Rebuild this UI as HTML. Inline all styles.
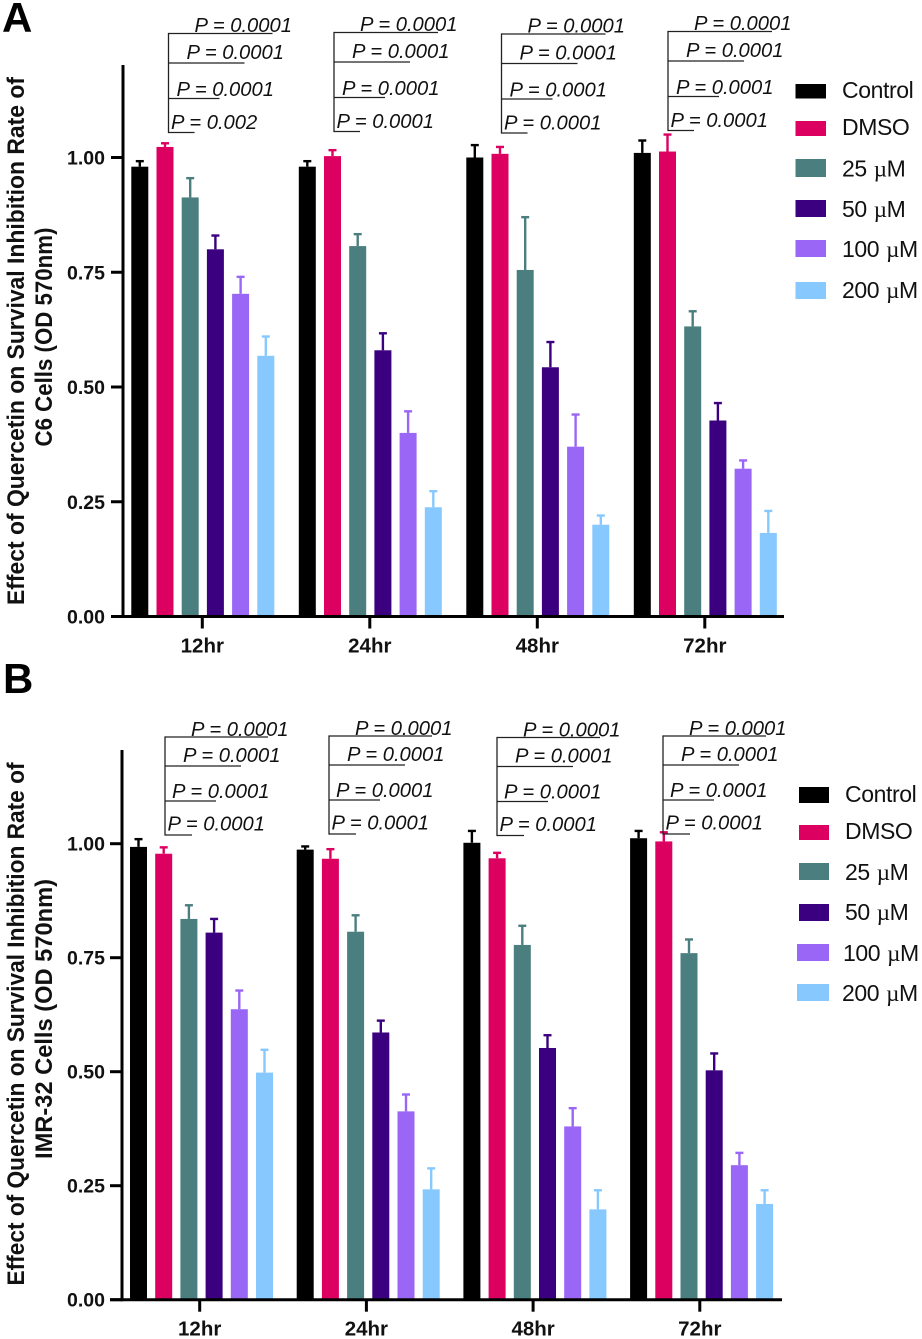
<!DOCTYPE html>
<html lang="en">
<head>
<meta charset="utf-8">
<title>Effect of Quercetin on Survival Inhibition Rate</title>
<style>
html,body{margin:0;padding:0;background:#fff;width:922px;height:1339px;overflow:hidden}
svg{display:block;font-family:"Liberation Sans",Arial,sans-serif}
</style>
</head>
<body>
<svg id="fig" xmlns="http://www.w3.org/2000/svg" width="922" height="1339" viewBox="0 0 922 1339">
  <text x="2" y="32" font-size="42" font-weight="700">A</text>
  <text x="3" y="693" font-size="42" font-weight="700">B</text>
  <text transform="translate(24,341) rotate(-90)" text-anchor="middle" font-size="24" font-weight="700" fill="#111" textLength="528" lengthAdjust="spacingAndGlyphs">Effect of Quercetin on Survival Inhibition Rate of</text>
  <text transform="translate(52,337) rotate(-90)" text-anchor="middle" font-size="24" font-weight="700" fill="#111" textLength="219" lengthAdjust="spacingAndGlyphs">C6 Cells (OD 570nm)</text>
  <text transform="translate(24,1024) rotate(-90)" text-anchor="middle" font-size="24" font-weight="700" fill="#111" textLength="523" lengthAdjust="spacingAndGlyphs">Effect of Quercetin on Survival Inhibition Rate of</text>
  <text transform="translate(52,1019) rotate(-90)" text-anchor="middle" font-size="24" font-weight="700" fill="#111" textLength="280" lengthAdjust="spacingAndGlyphs">IMR-32 Cells (OD 570nm)</text>
</svg>
<script>
// ---- chart data ----
const categories = ['12hr', '24hr', '48hr', '72hr'];
const seriesNames = ['Control', 'DMSO', '25 µM', '50 µM', '100 µM', '200 µM'];
const seriesColors = ['#000000', '#DC0060', '#4B7F7F', '#3A007F', '#9966F5', '#87C8FF'];
const yTicks = [0, 0.25, 0.5, 0.75, 1];
const yTickLabels = ['0.00', '0.25', '0.50', '0.75', '1.00'];

// mean per series, four time points each
const meansA = [
  [0.98, 0.98, 1.0, 1.01],
  [1.023, 1.003, 1.008, 1.013],
  [0.913, 0.807, 0.755, 0.632],
  [0.80, 0.58, 0.543, 0.427],
  [0.703, 0.40, 0.37, 0.322],
  [0.568, 0.238, 0.20, 0.182]
];
const errorsA = [
  [0.012, 0.012, 0.027, 0.027],
  [0.008, 0.013, 0.015, 0.037],
  [0.042, 0.026, 0.115, 0.033],
  [0.03, 0.037, 0.055, 0.038],
  [0.037, 0.047, 0.07, 0.018],
  [0.042, 0.035, 0.02, 0.048]
];
const meansB = [
  [0.993, 0.987, 1.002, 1.012],
  [0.978, 0.967, 0.968, 1.005],
  [0.835, 0.807, 0.778, 0.76],
  [0.805, 0.586, 0.552, 0.503],
  [0.637, 0.413, 0.38, 0.295],
  [0.498, 0.242, 0.198, 0.21]
];
const errorsB = [
  [0.017, 0.007, 0.026, 0.016],
  [0.014, 0.021, 0.012, 0.02],
  [0.03, 0.036, 0.042, 0.03],
  [0.03, 0.026, 0.028, 0.037],
  [0.041, 0.037, 0.04, 0.027],
  [0.05, 0.046, 0.042, 0.03]
];
// listed top line first
const pLabelsA = [
  ['P = 0.0001', 'P = 0.0001', 'P = 0.0001', 'P = 0.002'],
  ['P = 0.0001', 'P = 0.0001', 'P = 0.0001', 'P = 0.0001'],
  ['P = 0.0001', 'P = 0.0001', 'P = 0.0001', 'P = 0.0001'],
  ['P = 0.0001', 'P = 0.0001', 'P = 0.0001', 'P = 0.0001']
];
const pLabelsB = [
  ['P = 0.0001', 'P = 0.0001', 'P = 0.0001', 'P = 0.0001'],
  ['P = 0.0001', 'P = 0.0001', 'P = 0.0001', 'P = 0.0001'],
  ['P = 0.0001', 'P = 0.0001', 'P = 0.0001', 'P = 0.0001'],
  ['P = 0.0001', 'P = 0.0001', 'P = 0.0001', 'P = 0.0001']
];

// ---- drawing ----
const svg = document.getElementById('fig');
const NS = 'http://www.w3.org/2000/svg';
function mk(tag, attrs, parent) {
  const el = document.createElementNS(NS, tag);
  for (const k in attrs) el.setAttribute(k, attrs[k]);
  (parent || svg).appendChild(el);
  return el;
}

function drawPanel(p) {
  const id = p.id;
  const y = v => p.y0 - v * p.yUnit;
  const groupX = g => p.x0 + g * p.groupStep;
  const barX = (g, s) => groupX(g) + s * p.barStep;
  const barW = 17;

  const panel = mk('g', {});
  
  

  // bars and error bars
  seriesNames.forEach((name, s) => {
    categories.forEach((cat, g) => {
      const val = p.means[s][g];
      const top = val + p.errors[s][g];
      const cx = barX(g, s) + barW / 2;

      const stem = mk('line', {x1: cx, x2: cx, y1: y(val), y2: y(top), stroke: seriesColors[s], 'stroke-width': 2.4}, panel);
      
      

      const cap = mk('line', {x1: cx - 4, x2: cx + 4, y1: y(top), y2: y(top), stroke: seriesColors[s], 'stroke-width': 2.4}, panel);
      
      

      const bar = mk('rect', {x: barX(g, s), y: y(val), width: barW, height: y(0) - y(val), fill: seriesColors[s]}, panel);
      
      
    });
  });

  // axes
  const yAxis = mk('line', {x1: p.axisX, x2: p.axisX, y1: p.axisTop, y2: y(0) + 1.5, stroke: '#000', 'stroke-width': 3}, panel);
  
  

  const xAxis = mk('line', {x1: p.axisX - 12, x2: p.axisEnd, y1: y(0), y2: y(0), stroke: '#000', 'stroke-width': 3}, panel);
  
  

  yTicks.forEach((t, i) => {
    const tick = mk('line', {x1: p.axisX - 12, x2: p.axisX, y1: y(t), y2: y(t), stroke: '#000', 'stroke-width': 3}, panel);
    
    

    const label = mk('text', {x: 105, y: y(t) + 7, 'text-anchor': 'end', 'font-size': 19.5, 'font-weight': 700, fill: '#111'}, panel);
    label.textContent = yTickLabels[i];
    
    
  });

  categories.forEach((cat, g) => {
    const cx = groupX(g) + p.tickOffset;
    const tick = mk('line', {x1: cx, x2: cx, y1: y(0), y2: y(0) + 12, stroke: '#000', 'stroke-width': 3}, panel);
    
    

    const label = mk('text', {x: cx, y: y(0) + 36, 'text-anchor': 'middle', 'font-size': 20.5, 'font-weight': 700, fill: '#111'}, panel);
    label.textContent = cat;
    
    
  });

  // significance brackets
  categories.forEach((cat, g) => {
    const bx = p.bracketX[g];
    const dy = p.bracketDy[g];
    const bracket = mk('g', {}, panel);
    
    

    mk('line', {x1: bx, x2: bx, y1: p.bracketY[3] + dy + 0.6, y2: p.bracketY[0] + dy - 0.6, stroke: '#222', 'stroke-width': 1.3}, bracket);
    p.bracketY.forEach((by, k) => {
      mk('line', {x1: bx, x2: bx + p.bracketLen[k], y1: by + dy, y2: by + dy, stroke: '#222', 'stroke-width': 1.3}, bracket);
      const t = mk('text', {x: bx + p.textDx[k], y: by + dy + p.textDy[k], 'font-size': 20.2, 'font-style': 'italic', fill: '#111'}, bracket);
      t.textContent = p.pLabels[g][k];
      
      
    });
  });

  // legend
  seriesNames.forEach((name, s) => {
    const entry = mk('g', {}, panel);
    
    

    const sx = p.legendSwatchX[s];
    mk('rect', {x: sx, y: p.legendSwatchY[s], width: p.legendSwatchEnd - sx, height: p.legendSwatchH[s], fill: seriesColors[s]}, entry);
    const t = mk('text', {x: p.legendTextX[s], y: p.legendBase[s], 'font-size': 23, 'letter-spacing': -0.4, fill: '#111'}, entry);
    const parts = name.split('µ');
    if (parts.length === 2) {
      t.appendChild(document.createTextNode(parts[0]));
      const mu = mk('tspan', {'font-family': '"Liberation Serif",serif', dx: 1}, t);
      mu.textContent = 'µ';
      t.appendChild(document.createTextNode(parts[1]));
    } else {
      t.textContent = name;
    }
  });
}

drawPanel({
  id: 'a', means: meansA, errors: errorsA, pLabels: pLabelsA,
  y0: 616.5, yUnit: 459, x0: 131.3, groupStep: 167.5, barStep: 25.2, tickOffset: 71,
  axisX: 123, axisTop: 65, axisEnd: 784,
  bracketX: [168.5, 334, 501.5, 668], bracketDy: [0, -1, 0.5, -2],
  bracketY: [33.5, 63, 98.5, 132.5], bracketLen: [104, 76, 51, 26],
  textDx: [26, 18, 8, 2.5], textDy: [-1.5, -4, -2.5, -3.5],
  legendSwatchX: [795.5, 795.5, 795.5, 795.5, 795.5, 795.5], legendSwatchEnd: 826,
  legendSwatchY: [84, 121, 159, 200, 240, 282], legendSwatchH: [14.5, 15, 18, 17, 17, 17],
  legendTextX: [842, 842, 842, 842, 842, 842], legendBase: [98, 135, 176.5, 217, 257, 298]
});

drawPanel({
  id: 'b', means: meansB, errors: errorsB, pLabels: pLabelsB,
  y0: 1299.7, yUnit: 456, x0: 130, groupStep: 166.7, barStep: 25.2, tickOffset: 69.7,
  axisX: 122, axisTop: 750, axisEnd: 782,
  bracketX: [165, 329, 497, 663], bracketDy: [0, -1, 0.5, -1],
  bracketY: [737, 766, 801, 835], bracketLen: [103, 76, 51, 27],
  textDx: [26, 18, 7, 2.5], textDy: [-1, -4, -3, -4.3],
  legendSwatchX: [799, 799, 799, 799, 797, 797], legendSwatchEnd: 829,
  legendSwatchY: [787, 825, 863, 904, 944, 984], legendSwatchH: [16, 15, 17, 17, 17, 17],
  legendTextX: [845, 845, 845, 845, 843, 842], legendBase: [802, 839, 880, 920, 961, 1001]
});
</script>
</body>
</html>
